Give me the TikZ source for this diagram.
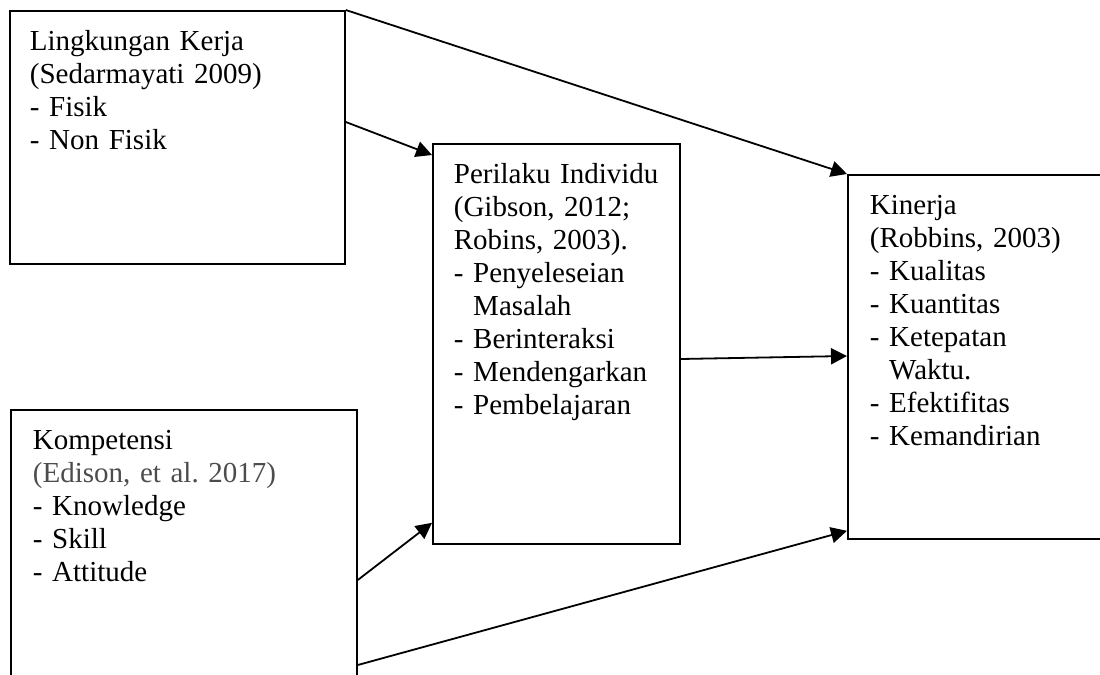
\documentclass[tikz,border=0pt]{standalone}
\usepackage{fontspec}
\setmainfont{Liberation Serif}
\usetikzlibrary{arrows.meta}
\frenchspacing

\begin{document}
\begin{tikzpicture}[
  x=0.5pt, y=-0.5pt,
  kotak/.style={draw, line width=0.9pt, anchor=north west, align=left,
    inner xsep=10pt, inner ysep=0pt, text height=20pt,
    font=\fontsize{14.5pt}{16.5pt}\selectfont},
  panah/.style={line width=0.9pt, -{Triangle[length=8pt, width=8pt]}}
]

\clip (0,0) rectangle (1100,675);

%% ── Variabel ─────────────────────────────────────────────────────────────────
%% Each variable is a box with its text set at the top left;
%% text depth fixes the height of the box.

% ── Kiri (variabel bebas) ────────────────────────────────────────────────────

\node[kotak, text width=147.5pt, text depth=106.5pt] (lingkungan) at (9, 10) {%
  Lingkungan Kerja\\
  (Sedarmayati 2009)\\
  - Fisik\\
  - Non Fisik};

\node[kotak, inner xsep=11pt, text width=151pt, text depth=125.5pt] (kompetensi) at (10, 409) {%
  Kompetensi\\
  {\color{black!70}(Edison, et al. 2017)}\\
  - Knowledge\\
  - Skill\\
  - Attitude};

% ── Tengah (variabel antara) ─────────────────────────────────────────────────

\node[kotak, inner xsep=10.5pt, text width=102.5pt, text depth=180pt] (perilaku) at (432, 143) {%
  Perilaku Individu\\
  (Gibson, 2012;\\
  Robins, 2003).\\
  - Penyeleseian\\
  \phantom{- }Masalah\\
  - Berinteraksi\\
  - Mendengarkan\\
  - Pembelajaran};

% ── Kanan (variabel terikat) ─────────────────────────────────────────────────

\node[kotak, inner xsep=11pt, text width=114.5pt, text depth=162pt] (kinerja) at (847, 174) {%
  Kinerja\\
  (Robbins, 2003)\\
  - Kualitas\\
  - Kuantitas\\
  - Ketepatan\\
  \phantom{- }Waktu.\\
  - Efektifitas\\
  - Kemandirian};

%% ── Hubungan ─────────────────────────────────────────────────────────────────

% Lingkungan Kerja -> Kinerja, Perilaku Individu
\draw[panah] (lingkungan.north east) -- (kinerja.north west);
\draw[panah] ([yshift=-56pt]lingkungan.north east) -- ([yshift=-6pt]perilaku.north west);

% Perilaku Individu -> Kinerja
\draw[panah] ([yshift=-108pt]perilaku.north east) -- ([yshift=-91pt]kinerja.north west);

% Kompetensi -> Perilaku Individu, Kinerja
\draw[panah] ([yshift=-85.5pt]kompetensi.north east) -- ([yshift=11pt]perilaku.south west);
\draw[panah] ([yshift=-128pt]kompetensi.north east) -- ([yshift=4.5pt]kinerja.south west);

\end{tikzpicture}
\end{document}
